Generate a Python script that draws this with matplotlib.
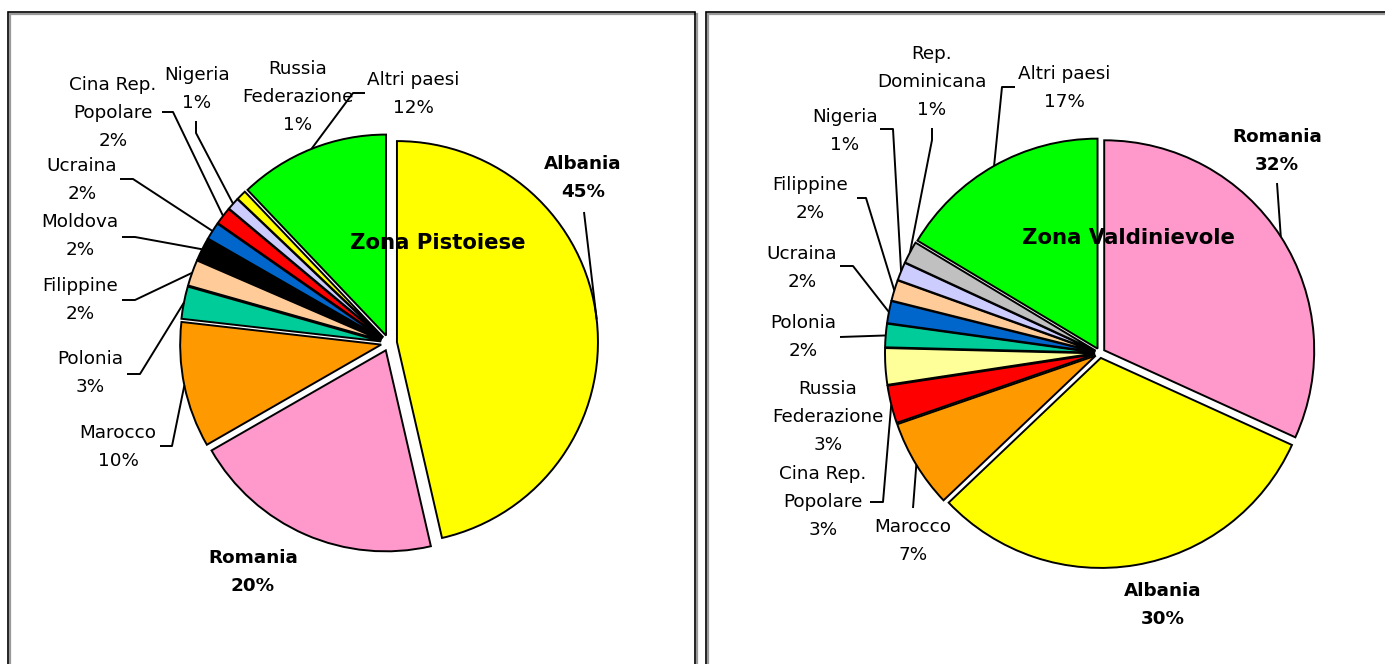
import matplotlib
matplotlib.use('Agg')
import matplotlib.pyplot as plt
from matplotlib.patches import Rectangle
import numpy as np

W, H = 1385, 664

# Zona Pistoiese (clockwise from 12 o'clock), slice sizes
left_names = ['Albania', 'Romania', 'Marocco', 'Polonia', 'Filippine', 'Moldova',
              'Ucraina', 'Cina Rep.\nPopolare', 'Nigeria', 'Russia\nFederazione', 'Altri paesi']
left_values = [46.4, 20.3, 10.1, 2.6, 2.1, 1.8, 1.4, 1.4, 1.0, 0.8, 12.1]
left_pct = ['45%', '20%', '10%', '3%', '2%', '2%', '2%', '2%', '1%', '1%', '12%']
left_colors = ['#FFFF00', '#FF99CC', '#FF9900', '#00CC99', '#FFCC99', '#000000',
               '#0066CC', '#FF0000', '#CCCCFF', '#FFFF00', '#00FF00']

# Zona Valdinievole
right_names = ['Romania', 'Albania', 'Marocco', 'Cina Rep.\nPopolare', 'Russia\nFederazione',
               'Polonia', 'Ucraina', 'Filippine', 'Nigeria', 'Rep.\nDominicana', 'Altri paesi']
right_values = [31.8, 31.1, 6.8, 2.9, 2.8, 1.8, 1.7, 1.6, 1.4, 1.7, 16.4]
right_pct = ['32%', '30%', '7%', '3%', '3%', '2%', '2%', '2%', '1%', '1%', '17%']
right_colors = ['#FF99CC', '#FFFF00', '#FF9900', '#FF0000', '#FFFF99', '#00CC99',
                '#0066CC', '#FFCC99', '#CCCCFF', '#C0C0C0', '#00FF00']

# label layout in image pixels: (x, y, bold, leader points before the wedge)
left_layout = [
    (583, 178, True, [(584, 212)]),
    (253, 572, True, None),
    (118, 447, False, [(160, 446), (172, 446)]),
    (90, 373, False, [(127, 374), (140, 374)]),
    (80, 300, False, [(122, 300), (135, 300)]),
    (80, 236, False, [(122, 237), (135, 237)]),
    (82, 180, False, [(120, 179), (133, 179)]),
    (113, 113, False, [(162, 112), (173, 112)]),
    (197, 89, False, [(196, 121), (196, 133)]),
    (298, 97, False, None),
    (413, 94, False, [(365, 93), (353, 93)]),
]
right_layout = [
    (1277, 151, True, [(1277, 183)]),
    (1163, 605, True, None),
    (913, 541, False, [(913, 508)]),
    (823, 502, False, [(870, 502), (883, 502)]),
    (828, 417, False, None),
    (803, 337, False, [(840, 337)]),
    (802, 268, False, [(840, 266), (853, 266)]),
    (810, 199, False, [(857, 198), (866, 198)]),
    (845, 131, False, [(880, 129), (893, 129)]),
    (932, 82, False, [(932, 128), (932, 140)]),
    (1064, 88, False, [(1015, 87), (1002, 87)]),
]

plt.rcParams['font.family'] = ['DejaVu Sans']

fig = plt.figure(figsize=(W / 100, H / 100), dpi=100)
ax = fig.add_axes([0, 0, 1, 1])


def Y(y):
    return H - y


# panel frames with a grey drop shadow
for x0, x1 in [(8, 695), (706, 1392)]:
    ax.add_patch(Rectangle((x0 + 2, Y(700)), x1 - x0, 700 - 14, fill=False,
                           edgecolor='#999999', lw=1.6, clip_on=False))
    ax.add_patch(Rectangle((x0, Y(700)), x1 - x0, 700 - 12, fill=False,
                           edgecolor='black', lw=1.2, clip_on=False))


def draw_pie(names, values, pct, colors, layout, center, radius, expl, title, title_pos):
    # every slice pulled out a little; explode offset is in data units (pixels)
    explode = [expl] * len(values)
    wedges, _ = ax.pie(values, colors=colors, startangle=90, counterclock=False,
                       center=(center[0], Y(center[1])), radius=radius, explode=explode,
                       frame=True, wedgeprops=dict(edgecolor='black', linewidth=1.4))
    for w, name, p, (tx, ty, bold, leader) in zip(wedges, names, pct, layout):
        ax.text(tx, Y(ty), f"{name}\n{p}", ha='center', va='center',
                fontsize=13.2, linespacing=1.72,
                fontweight='bold' if bold else 'normal', color='black')
        if leader:
            mid = np.deg2rad((w.theta1 + w.theta2) / 2)
            ax_ = w.center[0] + w.r * np.cos(mid)
            ay_ = w.center[1] + w.r * np.sin(mid)
            xs = [q[0] for q in leader] + [ax_]
            ys = [Y(q[1]) for q in leader] + [ay_]
            ax.plot(xs, ys, color='black', lw=1.4, solid_capstyle='butt')
    ax.text(title_pos[0], Y(title_pos[1]), title, ha='center', va='center',
            fontsize=15.3, fontweight='bold', color='black')


draw_pie(left_names, left_values, left_pct, left_colors, left_layout, (389, 343), 201,
         8, 'Zona Pistoiese', (438, 243))
draw_pie(right_names, right_values, right_pct, right_colors, right_layout, (1100, 353), 210,
         5, 'Zona Valdinievole', (1128, 238))

ax.set_xlim(0, W)
ax.set_ylim(0, H)
ax.set_aspect('auto')
ax.axis('off')

fig.savefig('out.png', dpi=100, facecolor='white')
